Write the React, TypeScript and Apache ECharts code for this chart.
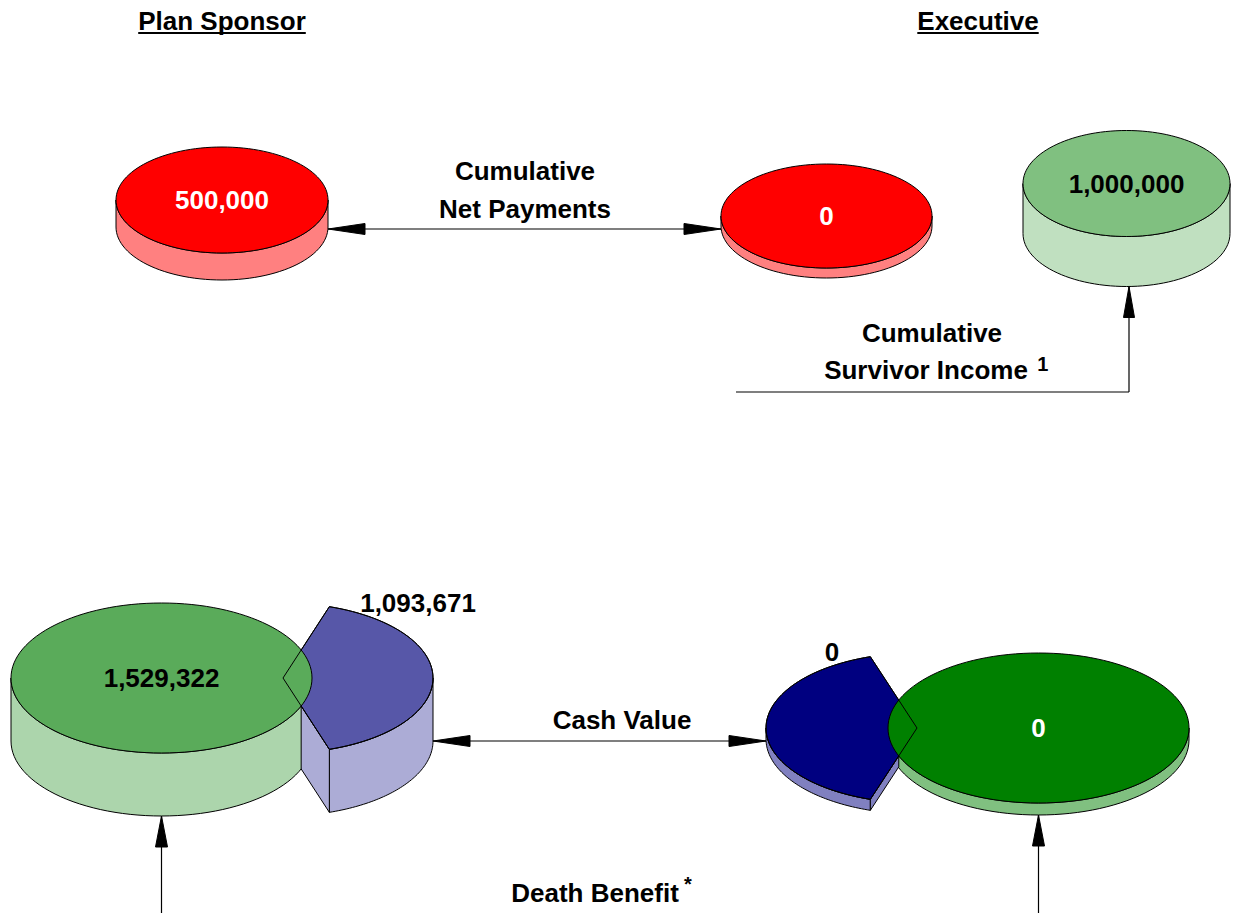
import React, { useEffect, useRef } from "react";
import * as echarts from "echarts";

// ---------- data ----------
const headerLabels = ["Plan Sponsor", "Executive"];
const cylinderNames = [
  "Plan Sponsor cumulative net payments",
  "Executive cumulative net payments",
  "Executive cumulative survivor income",
  "Plan Sponsor death benefit",
  "Executive death benefit",
];
const cylinderValues = [500000, 0, 1000000, 1529322, 0];
const sectorNames = ["Plan Sponsor cash value", "Executive cash value"];
const sectorValues = [1093671, 0];
const flowLines = [
  ["Cumulative", "Net Payments"],
  ["Cumulative", "Survivor Income"],
  ["Cash Value"],
  ["Death Benefit"],
];
const flowNotes = ["", "1", "", "*"];

// ---------- layout / style (not data) ----------
const FONT = '"Liberation Sans", Arial, sans-serif';
const CYL = [
  { cx: 222, cy: 200, rx: 106, ry: 53, depth: 27, top: "#FF0000", side: "#FF8080", label: "#FFFFFF" },
  { cx: 826.5, cy: 216, rx: 105.5, ry: 52, depth: 10, top: "#FF0000", side: "#FF8080", label: "#FFFFFF" },
  { cx: 1126.5, cy: 183.5, rx: 103.5, ry: 53, depth: 50, top: "#80C080", side: "#C0E0C0", label: "#000000" },
  { cx: 161.5, cy: 678, rx: 150.5, ry: 75, depth: 63, top: "#5AAB5A", side: "#ACD5AC", label: "#000000" },
  { cx: 1038.5, cy: 728, rx: 150.5, ry: 75, depth: 12, top: "#008000", side: "#80C080", label: "#FFFFFF" },
];
const SEC = [
  { cx: 283, cy: 678, rx: 150, ry: 75, depth: 63, t0: -72, t1: 72, top: "#5757A8", side: "#ACACD6", lx: 418, ly: 603, partner: 3 },
  { cx: 917, cy: 728, rx: 151, ry: 75, depth: 11, t0: 108, t1: 252, top: "#000080", side: "#8080C0", lx: 832, ly: 652, partner: 4 },
];
const FLOW_POS = [
  { lines: [[525, 171], [525, 209]], size: 26, noteDx: 0, noteDy: 0 },
  { lines: [[932, 333], [926, 370]], size: 26, noteDx: 15, noteDy: -6 },
  { lines: [[622, 720]], size: 26, noteDx: 0, noteDy: 0 },
  { lines: [[595, 893]], size: 26, noteDx: 9, noteDy: -9 },
];
const HEADER_POS = [[222, 21], [978, 21]];
const HEADER_SIZE = 26;

const fmt = (v: number) => v.toLocaleString("en-US");

function arc(cx: number, cy: number, rx: number, ry: number, a0: number, a1: number, n = 60) {
  const pts: number[][] = [];
  for (let i = 0; i <= n; i++) {
    const t = ((a0 + ((a1 - a0) * i) / n) * Math.PI) / 180;
    pts.push([cx + rx * Math.cos(t), cy + ry * Math.sin(t)]);
  }
  return pts;
}

function measure(text: string, font: string) {
  const c = document.createElement("canvas").getContext("2d");
  if (!c) return text.length * 12;
  c.font = font;
  return c.measureText(text).width;
}

function buildGraphics() {
  const els: any[] = [];
  let z = 1;
  const push = (e: any) => {
    e.z = z++;
    els.push(e);
  };
  const stroke = { stroke: "#000000", lineWidth: 1 };
  const text = (t: string, x: number, y: number, size: number, fill = "#000000") =>
    push({
      type: "text",
      x,
      y,
      style: {
        text: t,
        fill,
        fontSize: size,
        fontWeight: "bold",
        fontFamily: FONT,
        textAlign: "center",
        textVerticalAlign: "middle",
        align: "center",
        verticalAlign: "middle",
      },
    });
  const cylSide = (c: any) =>
    push({
      type: "polygon",
      shape: { points: [...arc(c.cx, c.cy, c.rx, c.ry, 0, 180), ...arc(c.cx, c.cy + c.depth, c.rx, c.ry, 180, 0)] },
      style: { fill: c.side, ...stroke },
    });
  const cylTop = (c: any) =>
    push({ type: "ellipse", shape: { cx: c.cx, cy: c.cy, rx: c.rx, ry: c.ry }, style: { fill: c.top, ...stroke } });
  const arrowHead = (tx: number, ty: number, dx: number, dy: number, len: number, hw: number) => {
    const px = -dy, py = dx;
    push({
      type: "polygon",
      shape: {
        points: [
          [tx, ty],
          [tx - dx * len + px * hw, ty - dy * len + py * hw],
          [tx - dx * len - px * hw, ty - dy * len - py * hw],
        ],
      },
      style: { fill: "#000000", stroke: "#000000", lineWidth: 1 },
    });
  };
  const line = (x1: number, y1: number, x2: number, y2: number) =>
    push({ type: "line", shape: { x1, y1, x2, y2 }, style: { stroke: "#000000", lineWidth: 1.2 } });

  // headers
  headerLabels.forEach((h, i) => {
    const [x, y] = HEADER_POS[i];
    text(h, x, y, HEADER_SIZE);
    const w = measure(h, `bold ${HEADER_SIZE}px ${FONT}`);
    push({ type: "rect", shape: { x: x - w / 2, y: y + 11, width: w, height: 2 }, style: { fill: "#000000" } });
  });

  // top row cylinders (0,1,2)
  [0, 1, 2].forEach((i) => {
    const c = CYL[i];
    cylSide(c);
    cylTop(c);
    text(fmt(cylinderValues[i]), c.cx, c.cy, 26, c.label);
  });

  // bottom pairs: cylinder + exploded cash value sector
  SEC.forEach((s, si) => {
    const g = CYL[s.partner];
    const front = s.t0 < 0 ? [0, s.t1] : [s.t0, 180];
    const edgeT = s.t0 < 0 ? s.t1 : s.t0;
    const V = [s.cx + s.rx * Math.cos((edgeT * Math.PI) / 180), s.cy + s.ry * Math.sin((edgeT * Math.PI) / 180)];
    const inside = (x: number, y: number) => ((x - g.cx) / g.rx) ** 2 + ((y - g.cy) / g.ry) ** 2 < 1;
    let lo = 0, hi = 1;
    for (let k = 0; k < 40; k++) {
      const m = (lo + hi) / 2;
      const x = s.cx + (V[0] - s.cx) * m, y = s.cy + (V[1] - s.cy) * m;
      if (inside(x, y)) lo = m; else hi = m;
    }
    const P = [s.cx + (V[0] - s.cx) * lo, s.cy + (V[1] - s.cy) * lo];
    const topPts = [[s.cx, s.cy], ...arc(s.cx, s.cy, s.rx, s.ry, s.t0, s.t1)];

    cylSide(g);
    push({
      type: "polygon",
      shape: { points: [...arc(s.cx, s.cy, s.rx, s.ry, front[0], front[1]), ...arc(s.cx, s.cy + s.depth, s.rx, s.ry, front[1], front[0])] },
      style: { fill: s.side, ...stroke },
    });
    push({
      type: "polygon",
      shape: { points: [P, V, [V[0], V[1] + s.depth], [P[0], P[1] + s.depth]] },
      style: { fill: s.side, ...stroke },
    });
    push({ type: "polygon", shape: { points: topPts }, style: { fill: s.top, ...stroke } });
    cylTop(g);
    push({ type: "polygon", shape: { points: topPts }, style: { fill: "none", ...stroke } });
    text(fmt(cylinderValues[s.partner]), g.cx, g.cy, 26, g.label);
    text(fmt(sectorValues[si]), s.lx, s.ly, 26, "#000000");
  });

  // arrows
  const AL = 37, AW = 5.5, VL = 31, VW = 6;
  const c0 = CYL[0], c1 = CYL[1], c2 = CYL[2], c3 = CYL[3], c4 = CYL[4];
  const yNP = 229;
  line(c0.cx + c0.rx, yNP, c1.cx - c1.rx, yNP);
  arrowHead(c0.cx + c0.rx, yNP, -1, 0, AL, AW);
  arrowHead(c1.cx - c1.rx, yNP, 1, 0, AL, AW);
  const xSI = 1129, ySI = 392;
  const tipSI = c2.cy + c2.depth + c2.ry;
  line(736, ySI, xSI, ySI);
  line(xSI, ySI, xSI, tipSI);
  arrowHead(xSI, tipSI, 0, -1, VL, AW);
  const yCV = 741;
  const s0 = SEC[0], s1 = SEC[1];
  line(s0.cx + s0.rx, yCV, s1.cx - s1.rx, yCV);
  arrowHead(s0.cx + s0.rx, yCV, -1, 0, AL, AW);
  arrowHead(s1.cx - s1.rx, yCV, 1, 0, AL, AW);
  [c3, c4].forEach((c) => {
    const tip = c.cy + c.depth + c.ry;
    line(c.cx, 913, c.cx, tip);
    arrowHead(c.cx, tip, 0, -1, VL, VW);
  });

  // flow labels
  flowLines.forEach((ls, i) => {
    const fp = FLOW_POS[i];
    ls.forEach((l, j) => text(l, fp.lines[j][0], fp.lines[j][1], fp.size));
    if (flowNotes[i]) {
      const last = ls[ls.length - 1];
      const [x, y] = fp.lines[ls.length - 1];
      const w = measure(last, `bold ${fp.size}px ${FONT}`);
      text(flowNotes[i], x + w / 2 + fp.noteDx, y + fp.noteDy, 20);
    }
  });

  return els;
}

export default function App() {
  const ref = useRef<HTMLDivElement>(null);
  useEffect(() => {
    document.body.style.margin = "0";
    if (!ref.current) return;
    const chart = echarts.init(ref.current, undefined, { renderer: "svg" });
    chart.setOption({
      animation: false,
      backgroundColor: "#FFFFFF",
      title: { show: false, text: cylinderNames.concat(sectorNames).join(", ") },
      graphic: { elements: buildGraphics() },
    });
    return () => chart.dispose();
  }, []);
  return <div ref={ref} style={{ position: "fixed", left: 0, top: 0, width: 1237, height: 913 }} />;
}
